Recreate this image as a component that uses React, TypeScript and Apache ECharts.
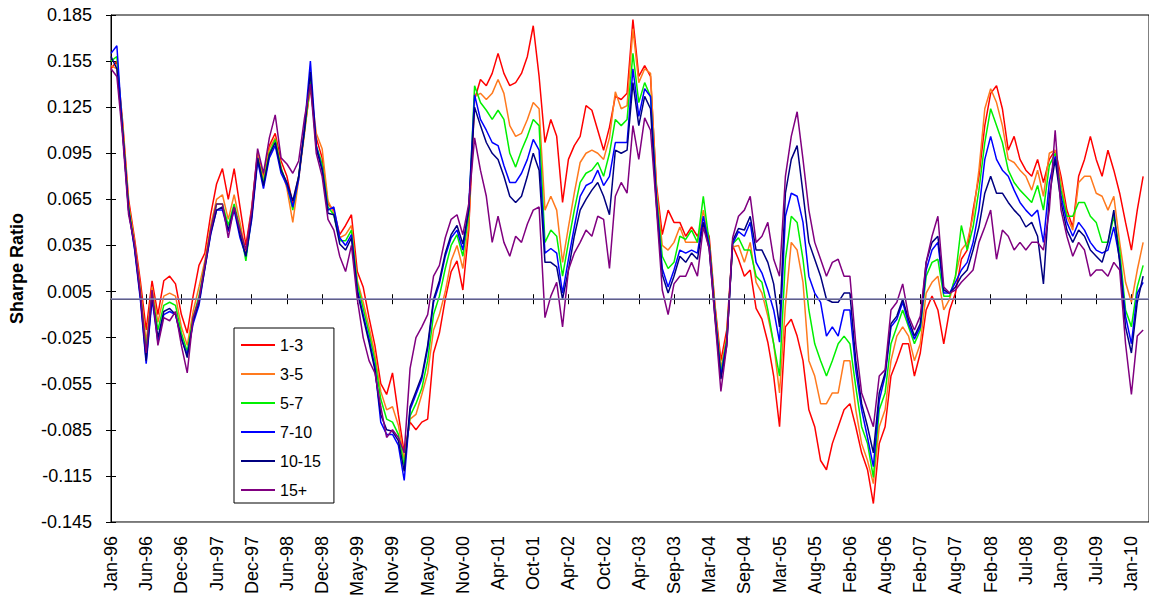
import React, { useEffect, useRef } from "react";
import * as echarts from "echarts";

const FONT = "'Liberation Sans', Arial, Helvetica, sans-serif";

const tickLabels = [
  "Jan-96", "Jun-96", "Dec-96", "Jun-97", "Dec-97", "Jun-98", "Dec-98", "May-99",
  "Nov-99", "May-00", "Nov-00", "Apr-01", "Oct-01", "Apr-02", "Oct-02", "Apr-03",
  "Sep-03", "Mar-04", "Sep-04", "Mar-05", "Aug-05", "Feb-06", "Aug-06", "Feb-07",
  "Aug-07", "Feb-08", "Jul-08", "Jan-09", "Jul-09", "Jan-10",
];

const seriesNames = ["1-3", "3-5", "5-7", "7-10", "10-15", "15+"];
const seriesColors = ["#FF0000", "#FF7A1E", "#00F000", "#0000FF", "#000080", "#800080"];

const s13 = [
  .150, .155, .115, .065, .040, .012, -.020, .012, -.010, .012,
  .015, .010, -.010, -.022, .002, .022, .030, .055, .075, .085,
  .065, .085, .060, .035, .060, .095, .080, .100, .108, .090,
  .080, .062, .080, .110, .138, .105, .092, .062, .058, .042,
  .048, .055, .018, .008, -.012, -.030, -.055, -.062, -.048, -.075,
  -.100, -.080, -.085, -.080, -.078, -.035, -.022, .000, .018, .025,
  .006, .045, .130, .143, .139, .147, .160, .147, .139, .141,
  .147, .158, .178, .145, .102, .117, .106, .063, .091, .100,
  .106, .126, .123, .110, .097, .112, .132, .130, .134, .182,
  .145, .152, .145, .075, .042, .058, .050, .050, .041, .047,
  .041, .050, .041, -.004, -.040, -.020, .035, .026, .015, .019,
  -.006, -.013, -.028, -.050, -.083, -.018, -.013, -.024, -.040, -.072,
  -.083, -.105, -.111, -.094, -.083, -.072, -.068, -.083, -.100, -.111,
  -.133, -.094, -.083, -.050, -.040, -.029, -.029, -.050, -.035, -.007,
  .002, -.007, -.029, -.007, .004, .026, .032, .058, .080, .113,
  .134, .139, .124, .097, .106, .091, .084, .080, .091, .076,
  .091, .097, .080, .058, .047, .080, .091, .106, .091, .080,
  .097, .084, .069, .050, .032, .058, .080,
];

const s35 = [
  .152, .150, .112, .062, .038, .008, -.028, .008, -.015, .002,
  .004, .002, -.018, -.030, -.008, .008, .025, .048, .065, .068,
  .052, .068, .050, .030, .058, .095, .078, .098, .105, .086,
  .072, .050, .078, .108, .140, .108, .098, .064, .056, .040,
  .042, .048, .012, -.002, -.018, -.036, -.060, -.072, -.070, -.082,
  -.104, -.078, -.075, -.062, -.048, -.020, -.010, .005, .025, .035,
  .020, .048, .132, .134, .130, .134, .143, .134, .113, .106,
  .108, .117, .128, .124, .058, .067, .058, .024, .047, .069,
  .089, .095, .097, .095, .091, .105, .135, .124, .126, .176,
  .141, .150, .147, .072, .035, .032, .037, .047, .037, .037,
  .037, .058, .035, -.006, -.045, -.024, .034, .035, .024, .037,
  .011, .004, -.011, -.029, -.061, -.004, .037, .032, .011, -.040,
  -.050, -.068, -.068, -.061, -.061, -.040, -.040, -.072, -.094, -.105,
  -.120, -.083, -.072, -.040, -.024, -.018, -.024, -.040, -.029, .004,
  .011, .015, -.007, .000, .015, .032, .037, .054, .084, .124,
  .137, .128, .113, .091, .089, .084, .080, .071, .084, .067,
  .095, .097, .076, .054, .045, .076, .080, .080, .069, .067,
  .058, .067, .037, .011, -.002, .019, .037,
];

const s57 = [
  .155, .158, .110, .060, .035, .004, -.033, .004, -.020, -.004,
  -.002, -.004, -.022, -.034, -.012, .002, .022, .045, .062, .062,
  .048, .062, .046, .025, .055, .092, .076, .095, .104, .085,
  .075, .058, .080, .110, .142, .100, .088, .060, .055, .038,
  .038, .045, .010, -.006, -.022, -.040, -.065, -.078, -.080, -.088,
  -.108, -.076, -.068, -.058, -.040, -.010, .002, .020, .035, .042,
  .028, .055, .139, .128, .123, .117, .123, .117, .095, .086,
  .097, .106, .117, .113, .037, .045, .041, .015, .037, .058,
  .076, .082, .084, .089, .080, .095, .117, .113, .117, .160,
  .128, .141, .132, .068, .028, .020, .024, .041, .039, .045,
  .037, .067, .037, -.008, -.048, -.026, .036, .040, .032, .032,
  .015, .011, -.007, -.029, -.050, .026, .054, .050, .026, -.007,
  -.029, -.040, -.050, -.040, -.029, -.024, -.029, -.057, -.083, -.094,
  -.116, -.072, -.061, -.029, -.018, -.007, -.018, -.029, -.020, .015,
  .024, .026, .002, .002, .015, .048, .032, .047, .071, .102,
  .124, .113, .102, .084, .076, .071, .067, .063, .074, .058,
  .087, .095, .071, .054, .054, .063, .063, .054, .050, .037,
  .037, .054, .032, -.007, -.018, .008, .022,
];

const s710 = [
  .160, .165, .108, .058, .033, .000, -.042, .000, -.028, -.010,
  -.008, -.010, -.026, -.036, -.016, -.004, .020, .042, .058, .058,
  .044, .058, .040, .028, .052, .090, .072, .092, .100, .082,
  .074, .060, .078, .112, .155, .100, .085, .058, .060, .040,
  .035, .042, .006, -.010, -.026, -.044, -.080, -.088, -.088, -.095,
  -.118, -.072, -.062, -.052, -.032, -.002, .010, .028, .040, .045,
  .032, .060, .133, .117, .110, .102, .100, .087, .076, .076,
  .082, .091, .104, .097, .030, .033, .030, .004, .026, .047,
  .067, .074, .076, .084, .074, .080, .102, .102, .102, .150,
  .119, .137, .132, .065, .020, .008, .019, .032, .030, .032,
  .030, .054, .035, -.010, -.050, -.028, .036, .044, .041, .050,
  .024, .017, .006, -.007, -.028, .054, .069, .067, .050, .015,
  .004, -.002, -.024, -.018, -.024, -.007, -.007, -.046, -.072, -.090,
  -.109, -.066, -.050, -.018, -.013, -.002, -.016, -.026, -.018, .019,
  .032, .037, .004, .004, .011, .019, .024, .037, .058, .091,
  .106, .091, .084, .080, .071, .063, .058, .054, .058, .037,
  .076, .093, .067, .050, .041, .050, .045, .037, .032, .030,
  .032, .047, .026, -.011, -.029, .004, .011,
];

const s1015 = [
  .158, .150, .108, .058, .034, .002, -.040, .002, -.025, -.008,
  -.006, -.010, -.025, -.038, -.014, -.002, .020, .043, .058, .060,
  .045, .060, .042, .028, .054, .092, .074, .094, .102, .084,
  .076, .064, .080, .110, .148, .098, .084, .056, .055, .036,
  .032, .040, .005, -.012, -.028, -.046, -.075, -.085, -.086, -.092,
  -.112, -.070, -.060, -.050, -.030, .000, .012, .030, .042, .048,
  .036, .058, .125, .113, .102, .095, .091, .080, .067, .063,
  .067, .080, .095, .084, .024, .024, .021, .000, .019, .041,
  .058, .065, .071, .076, .067, .055, .097, .095, .097, .141,
  .113, .132, .124, .062, .016, .004, .015, .028, .024, .030,
  .026, .050, .033, -.012, -.052, -.030, .038, .046, .045, .054,
  .032, .032, .024, .010, -.018, .069, .091, .100, .069, .037,
  .026, .015, .000, -.002, -.002, .004, .004, -.040, -.068, -.083,
  -.100, -.061, -.048, -.016, -.011, .000, -.013, -.024, -.016, .024,
  .037, .041, .006, .004, .008, .015, .019, .032, .047, .069,
  .080, .069, .069, .063, .058, .054, .047, .050, .041, .010,
  .067, .091, .063, .045, .037, .045, .041, .032, .028, .024,
  .037, .058, .024, -.018, -.035, -.002, .015,
];

const s15p = [
  .150, .145, .105, .055, .036, .004, -.035, .006, -.030, -.012,
  -.014, -.008, -.030, -.048, -.012, .000, .022, .045, .062, .062,
  .040, .060, .045, .032, .058, .098, .082, .105, .120, .092,
  .088, .082, .090, .118, .140, .095, .080, .052, .045, .028,
  .018, .035, .000, -.025, -.040, -.048, -.070, -.090, -.085, -.090,
  -.100, -.045, -.025, -.018, -.010, .015, .022, .040, .052, .055,
  .042, .062, .105, .084, .067, .037, .054, .037, .028, .041,
  .037, .049, .058, .060, -.012, .002, .011, -.018, .019, .030,
  .037, .045, .041, .054, .052, .020, .067, .076, .069, .113,
  .091, .118, .110, .060, .006, -.010, .010, .015, .015, .024,
  .015, .047, .033, -.013, -.060, -.030, .040, .054, .058, .067,
  .037, .041, .050, .026, .015, .080, .106, .122, .091, .058,
  .037, .026, .015, .024, .026, .015, .015, -.029, -.061, -.072,
  -.083, -.050, -.046, -.007, -.002, .010, -.011, -.020, -.011, .024,
  .041, .054, .008, .004, .006, .011, .015, .019, .037, .047,
  .058, .026, .045, .041, .032, .037, .032, .037, .037, .032,
  .058, .110, .058, .041, .028, .037, .032, .015, .019, .019,
  .015, .024, .019, -.029, -.062, -.024, -.020,
];

const allSeries = [s13, s35, s57, s710, s1015, s15p];
const POINTS_PER_LABEL = 6;
const CATEGORY_COUNT = 178;

export default function App() {
  const ref = useRef<HTMLDivElement>(null);

  useEffect(() => {
    if (!ref.current) return;
    const chart = echarts.init(ref.current, null, { renderer: "svg" });

    const categories = Array.from({ length: CATEGORY_COUNT }, (_, i) =>
      i % POINTS_PER_LABEL === 0 && tickLabels[i / POINTS_PER_LABEL]
        ? tickLabels[i / POINTS_PER_LABEL]
        : "p" + i
    );

    const option: any = {
      animation: false,
      backgroundColor: "#ffffff",
      textStyle: { fontFamily: FONT },
      grid: {
        left: 110,
        right: -1,
        top: 15,
        bottom: 77,
        show: true,
        borderColor: "#000",
        borderWidth: 1,
        backgroundColor: "transparent",
      },
      legend: {
        orient: "vertical",
        left: 234,
        top: 328,
        padding: [9, 13, 5, 7],
        itemGap: 13,
        itemWidth: 34,
        itemHeight: 2,
        icon: "rect",
        borderColor: "#000",
        borderWidth: 1,
        borderRadius: 0,
        backgroundColor: "#ffffff",
        z: 20,
        textStyle: { fontSize: 16, color: "#000", fontFamily: FONT, lineHeight: 16, height: 16 },
        data: seriesNames,
      },
      xAxis: [
        {
          type: "category",
          data: categories,
          boundaryGap: false,
          axisLine: { show: true, lineStyle: { color: "#000", width: 1 } },
          axisTick: { show: true, interval: POINTS_PER_LABEL - 1, length: 5, lineStyle: { color: "#000" } },
          axisLabel: {
            interval: POINTS_PER_LABEL - 1,
            rotate: 90,
            margin: 14,
            fontSize: 18,
            color: "#000",
            fontFamily: FONT,
          },
          splitLine: { show: false },
        },
        {
          type: "category",
          data: categories,
          boundaryGap: false,
          position: "bottom",
          axisLine: { show: false },
          axisTick: { show: true, inside: true, interval: POINTS_PER_LABEL - 1, length: 5, lineStyle: { color: "#000" } },
          axisLabel: { show: false },
          splitLine: { show: false },
        },
      ],
      yAxis: [
        {
          type: "value",
          min: -0.145,
          max: 0.185,
          interval: 0.03,
          axisLine: { show: true, lineStyle: { color: "#000", width: 1 } },
          axisTick: { show: true, length: 5, lineStyle: { color: "#000" } },
          axisLabel: {
            formatter: (v: number) => v.toFixed(3),
            fontSize: 18,
            color: "#000",
            margin: 19,
            fontFamily: FONT,
          },
          splitLine: { show: false },
          name: "Sharpe Ratio",
          nameLocation: "middle",
          nameGap: 85,
          nameTextStyle: { fontSize: 18, fontWeight: "bold", color: "#000", fontFamily: FONT },
        },
        {
          type: "value",
          min: -0.145,
          max: 0.185,
          interval: 0.03,
          position: "left",
          axisLine: { show: false },
          axisTick: { show: true, inside: true, length: 5, lineStyle: { color: "#000" } },
          axisLabel: { show: false },
          splitLine: { show: false },
        },
      ],
      series: allSeries.map((d, i) => {
        const s: any = {
          name: seriesNames[i],
          type: "line",
          data: d,
          xAxisIndex: 0,
          yAxisIndex: 0,
          showSymbol: false,
          symbol: "none",
          silent: true,
          lineStyle: { width: 1.5, color: seriesColors[i] },
          itemStyle: { color: seriesColors[i] },
        };
        if (i === 0) {
          s.markLine = {
            silent: true,
            symbol: "none",
            label: { show: false },
            lineStyle: { color: "#8080B4", width: 1.5, type: "solid" },
            data: [{ yAxis: 0 }],
          };
        }
        return s;
      }),
    };

    chart.setOption(option);
    return () => chart.dispose();
  }, []);

  return (
    <div
      ref={ref}
      style={{ position: "absolute", left: 0, top: 0, width: 1149, height: 599, background: "#fff" }}
    />
  );
}
